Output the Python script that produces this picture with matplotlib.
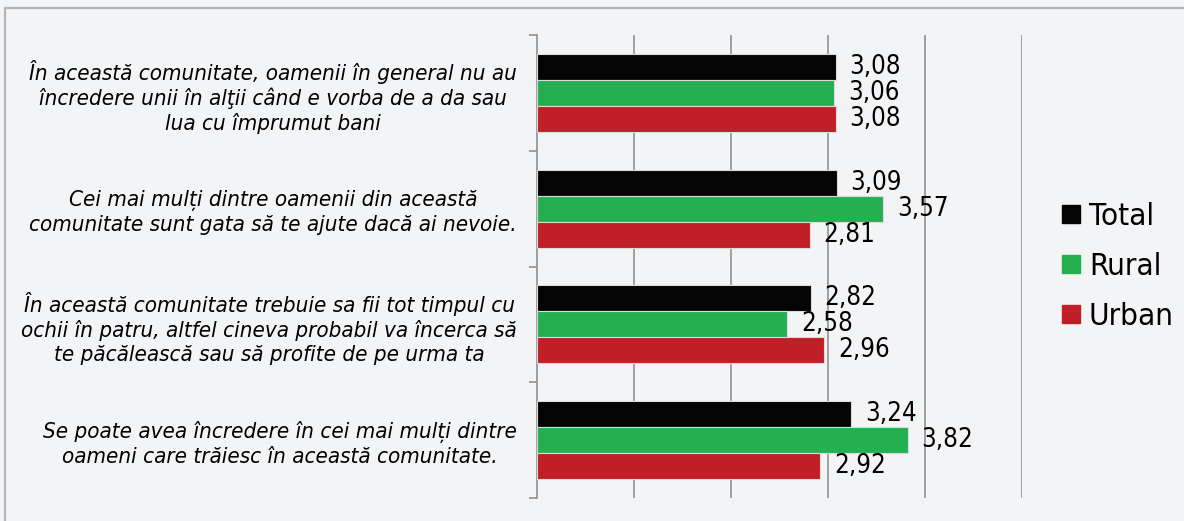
import matplotlib
matplotlib.use("Agg")
import matplotlib.pyplot as plt
from matplotlib.lines import Line2D
from matplotlib.patches import Rectangle
import numpy as np

categories = [
    "În această comunitate, oamenii în general nu au\nîncredere unii în alţii când e vorba de a da sau\nlua cu împrumut bani",
    "Cei mai mulți dintre oamenii din această\ncomunitate sunt gata să te ajute dacă ai nevoie.",
    "În această comunitate trebuie sa fii tot timpul cu\nochii în patru, altfel cineva probabil va încerca să\nte păcălească sau să profite de pe urma ta",
    "Se poate avea încredere în cei mai mulți dintre\noameni care trăiesc în această comunitate.",
]
series_names = ["Total", "Rural", "Urban"]
total = [3.08, 3.09, 2.82, 3.24]
rural = [3.06, 3.57, 2.58, 3.82]
urban = [3.08, 2.81, 2.96, 2.92]
series_values = [total, rural, urban]
colors = ["#040404", "#24B050", "#C01F27"]

BG = "#F3F4F6"
W, H = 1184, 521
fig = plt.figure(figsize=(W / 100, H / 100), dpi=100, facecolor=BG)

# outer frame (top and left visible)
fig.add_artist(Rectangle((5.0 / W, -0.1), 1.2, 1 - 7.5 / H + 0.1, transform=fig.transFigure,
                         fill=False, edgecolor="#B5B5B5", linewidth=1.6))

ax = fig.add_axes([537 / W, 1 - 498 / H, (1022 - 537) / W, (498 - 35) / H])
ax.set_facecolor(BG)

FONT = dict(family="DejaVu Sans", stretch="condensed")

y = np.arange(len(categories))
h = 0.225
for i, (name, vals, col) in enumerate(zip(series_names, series_values, colors)):
    pos = y + (i - 1) * h
    bars = ax.barh(pos, vals, height=h, color=col, edgecolor="#DADADA", linewidth=0.8,
                   label=name, zorder=3)
    for b, v in zip(bars, vals):
        ax.annotate(f"{v:.2f}".replace(".", ","),
                    xy=(b.get_width(), b.get_y() + b.get_height() / 2),
                    xytext=(10, 0), textcoords="offset points",
                    ha="left", va="center", fontsize=18.5, color="black", zorder=4, **FONT)

ax.set_xlim(0, 5)
ax.set_ylim(3.5, -0.5)
ax.set_xticks([1, 2, 3, 4, 5])
ax.xaxis.grid(True, color="#A0A0A0", linewidth=1.4, zorder=0)
ax.tick_params(axis="x", which="both", length=0, labelbottom=False)

ax.set_yticks(y)
ax.set_yticklabels(categories)
ax.set_yticks(np.arange(-0.5, 4.0, 1.0), minor=True)
ax.tick_params(axis="y", which="major", length=0, pad=14.4)
ax.tick_params(axis="y", which="minor", length=6, width=1.2, color="#909090", direction="out")
for lab in ax.get_yticklabels():
    lab.set_fontstyle("italic")
    lab.set_fontfamily("DejaVu Sans")
    lab.set_fontstretch("condensed")
    lab.set_fontsize(16)
    lab.set_multialignment("center")
    lab.set_linespacing(1.23)

for s in ["top", "right", "bottom"]:
    ax.spines[s].set_visible(False)
ax.spines["left"].set_color("#909090")
ax.spines["left"].set_linewidth(1.2)

handles = [Line2D([], [], marker="s", linestyle="none", markersize=12.5, markerfacecolor=c,
                  markeredgecolor=c) for c in colors]
fig.legend(handles, series_names, loc="center left", bbox_to_anchor=(1062 / W, 1 - 266.5 / H),
           frameon=False, borderpad=0, borderaxespad=0, handlelength=0.58, handletextpad=0.28,
           labelspacing=0.67, prop=dict(family="DejaVu Sans", stretch="condensed", size=22.5))

fig.savefig("out.png", dpi=100, facecolor=BG)
